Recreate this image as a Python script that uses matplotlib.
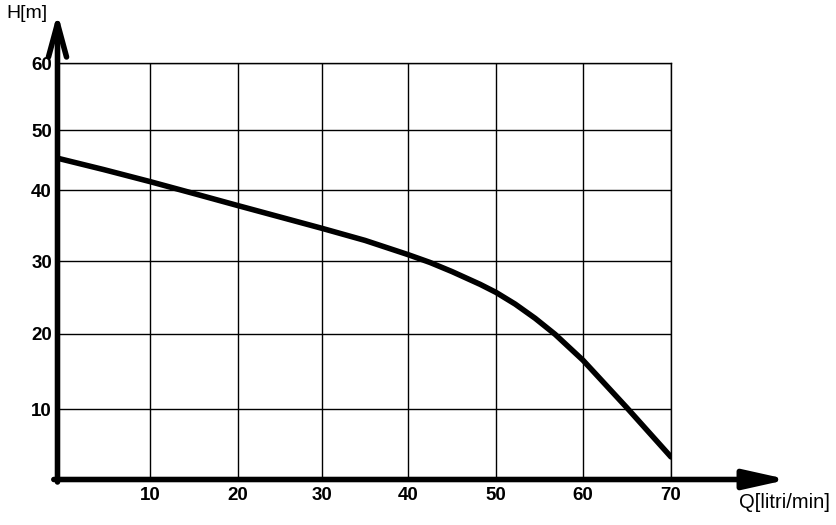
import numpy as np
import matplotlib.pyplot as plt
from matplotlib.patches import FancyArrowPatch, ArrowStyle

# pump curve
flow = [0, 5, 10, 15, 20, 25, 30, 35, 40, 42.5, 45, 48.2, 50, 52.2, 54.5, 56.8,
        60, 65, 70]
head = [45.3, 43.4, 41.4, 39.5, 37.8, 36.2, 34.6, 32.9, 30.9, 29.8, 28.55, 26.8,
        25.7, 24.1, 22.15, 19.95, 16.5, 10.15, 3.2]

x_ticks = [10, 20, 30, 40, 50, 60, 70]
y_ticks = [10, 20, 30, 40, 50, 60]

# the grid in the original is drawn by hand, so the spacing is a little uneven
x_grid = [0, 10, 20, 30, 40, 50, 60, 70]
x_grid_px = [0, 92.5, 180.5, 264.5, 350.5, 438.5, 525.5, 613.5]
y_grid = [0, 10, 20, 30, 40, 50, 60]
y_grid_px = [0, 70.5, 145.5, 218.5, 289.5, 349.5, 416.5]


def uneven(vals, pos):
    v = np.array(vals, float)
    p = np.array(pos, float)
    s0 = (p[1] - p[0]) / (v[1] - v[0])
    s1 = (p[-1] - p[-2]) / (v[-1] - v[-2])
    v = np.r_[v[0] - 1e4, v, v[-1] + 1e4]
    p = np.r_[p[0] - 1e4 * s0, p, p[-1] + 1e4 * s1]
    return (lambda a: np.interp(a, v, p)), (lambda a: np.interp(a, p, v))


plt.rcParams['font.family'] = ['Liberation Sans', 'DejaVu Sans']

fig = plt.figure(figsize=(8.36, 5.25), dpi=100)
ax = fig.add_axes([57.5 / 836, 45.5 / 525, 613.5 / 836, 416.5 / 525])

ax.set_xscale('function', functions=uneven(x_grid, x_grid_px))
ax.set_yscale('function', functions=uneven(y_grid, y_grid_px))
ax.set_xlim(0, 70)
ax.set_ylim(0, 60)

ax.plot(flow, head, color='black', lw=4, solid_joinstyle='round',
        solid_capstyle='round', zorder=3)

ax.set_xticks(x_ticks)
ax.set_yticks(y_ticks)
ax.set_xticklabels([str(t) for t in x_ticks], fontsize=13.5, fontweight='bold')
ax.set_yticklabels([str(t) for t in y_ticks], fontsize=13.5, fontweight='bold')
ax.tick_params(axis='x', length=0, pad=5.5)
ax.tick_params(axis='y', length=0, pad=4)
ax.grid(True, color='black', lw=1.0)

for side in ['left', 'bottom']:
    ax.spines[side].set_visible(False)
for side in ['top', 'right']:
    ax.spines[side].set_linewidth(1.0)

# axis arrows
ya = FancyArrowPatch((0, -0.006), (0, 1.12), transform=ax.transAxes,
                     arrowstyle=ArrowStyle('->', head_length=24, head_width=6.5),
                     mutation_scale=1, lw=4, color='black', clip_on=False,
                     shrinkA=0, shrinkB=0, zorder=4)
xa = FancyArrowPatch((-0.006, 0), (1.191, 0), transform=ax.transAxes,
                     arrowstyle=ArrowStyle('-|>', head_length=26, head_width=5.8),
                     mutation_scale=1, lw=4, color='black', clip_on=False,
                     shrinkA=0, shrinkB=0, zorder=4)
ax.add_patch(ya)
ax.add_patch(xa)

fig.text(6 / 836, 1 - 13.5 / 525, 'H[m]', fontsize=14, va='center', ha='left')
fig.text(739 / 836, 1 - 502.5 / 525, 'Q[litri/min]', fontsize=14.5,
         va='center', ha='left')

plt.savefig('out.png', dpi=100)
